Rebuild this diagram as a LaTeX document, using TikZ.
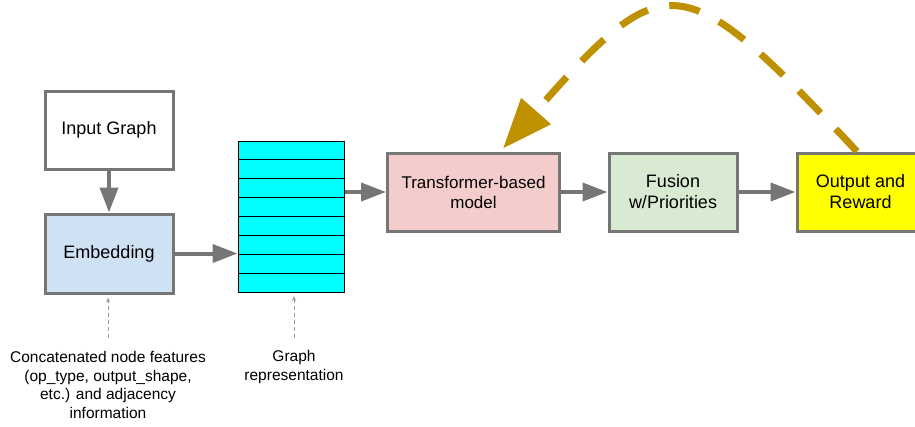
\documentclass[tikz,border=0pt]{standalone}
\usepackage{fontspec}
\setmainfont{Liberation Sans}
\usetikzlibrary{arrows.meta,calc}
\definecolor{bordergray}{HTML}{767676}
\definecolor{embblue}{HTML}{CFE2F3}
\definecolor{transpink}{HTML}{F4CCCC}
\definecolor{fusgreen}{HTML}{D9EAD3}
\definecolor{outyellow}{HTML}{FFFF00}
\definecolor{stackcyan}{HTML}{00FFFF}
\definecolor{gold}{HTML}{BF9000}
\definecolor{dotgray}{HTML}{999999}
\tikzset{
  box/.style={draw=bordergray, line width=3pt, inner sep=0pt, align=center,
    font=\fontsize{18}{21}\selectfont},
  flow/.style={draw=bordergray, line width=4pt, -{Triangle[length=25pt,width=18pt]}},
  hint/.style={draw=dotgray, line width=1pt, dash pattern=on 4pt off 3pt,
    -{Stealth[length=5pt,width=4pt]}},
  lbl/.style={align=center, inner sep=0pt, font=\fontsize{15.5}{18.7}\selectfont},
  feedback/.style={draw=gold, line width=7pt, dash pattern=on 31pt off 22pt,
    -{Triangle[length=50pt,width=38pt]}}
}
\begin{document}
\begin{tikzpicture}[x=1pt,y=-1pt]
\useasboundingbox (0,0) rectangle (915,426);
% boxes
\node[box, fill=white, minimum width=128pt, minimum height=78pt] (inp) at (109,130) {Input Graph};
\node[box, fill=embblue, minimum width=128pt, minimum height=79pt] (emb) at (109,253.5) {Embedding};
\node[draw=black, line width=1pt, fill=stackcyan, minimum width=106pt, minimum height=151pt, inner sep=0pt] (stack) at (291,217) {};
\foreach \i in {1,...,7} {
  \draw[black, line width=1pt] ($(stack.north west)+(0,\i*18.875)$) -- ($(stack.north east)+(0,\i*18.875)$);
}
\node[box, fill=transpink, minimum width=172pt, minimum height=78pt,
  font=\fontsize{17}{20}\selectfont] (trans) at (473.5,192) {Transformer-based\\model};
\node[box, fill=fusgreen, minimum width=128pt, minimum height=78pt] (fus) at (673,192) {Fusion\\w/Priorities};
\node[box, fill=outyellow, minimum width=127pt, minimum height=78pt] (out) at (860.5,192) {Output and\\Reward};
% flow arrows
\draw[flow] (inp.south) -- (emb.north);
\draw[flow] (emb.east) -- (emb.east -| stack.west);
\draw[flow] (trans.west -| stack.east) -- (trans.west);
\draw[flow] (trans.east) -- (fus.west);
\draw[flow] (fus.east) -- (out.west);
% feedback
\draw[feedback] ($(out.north)+(-3.5,0)$) .. controls (681,-36) and (666,-36) .. ($(trans.north)+(29.5,-3)$);
% labels
\node[lbl] (lab1) at (108,385) {Concatenated node features\\(op\_type, output\_shape,\\etc.) and adjacency\\information};
\node[lbl] (lab2) at (294,367) {Graph\\representation};
\coordinate (h1) at (108,338);
\coordinate (h2) at (294,338);
\draw[hint] (h1) -- ($(emb.south)+(-1,3)$);
\draw[hint] (h2) -- ($(stack.south)+(3,3)$);
\end{tikzpicture}
\end{document}
